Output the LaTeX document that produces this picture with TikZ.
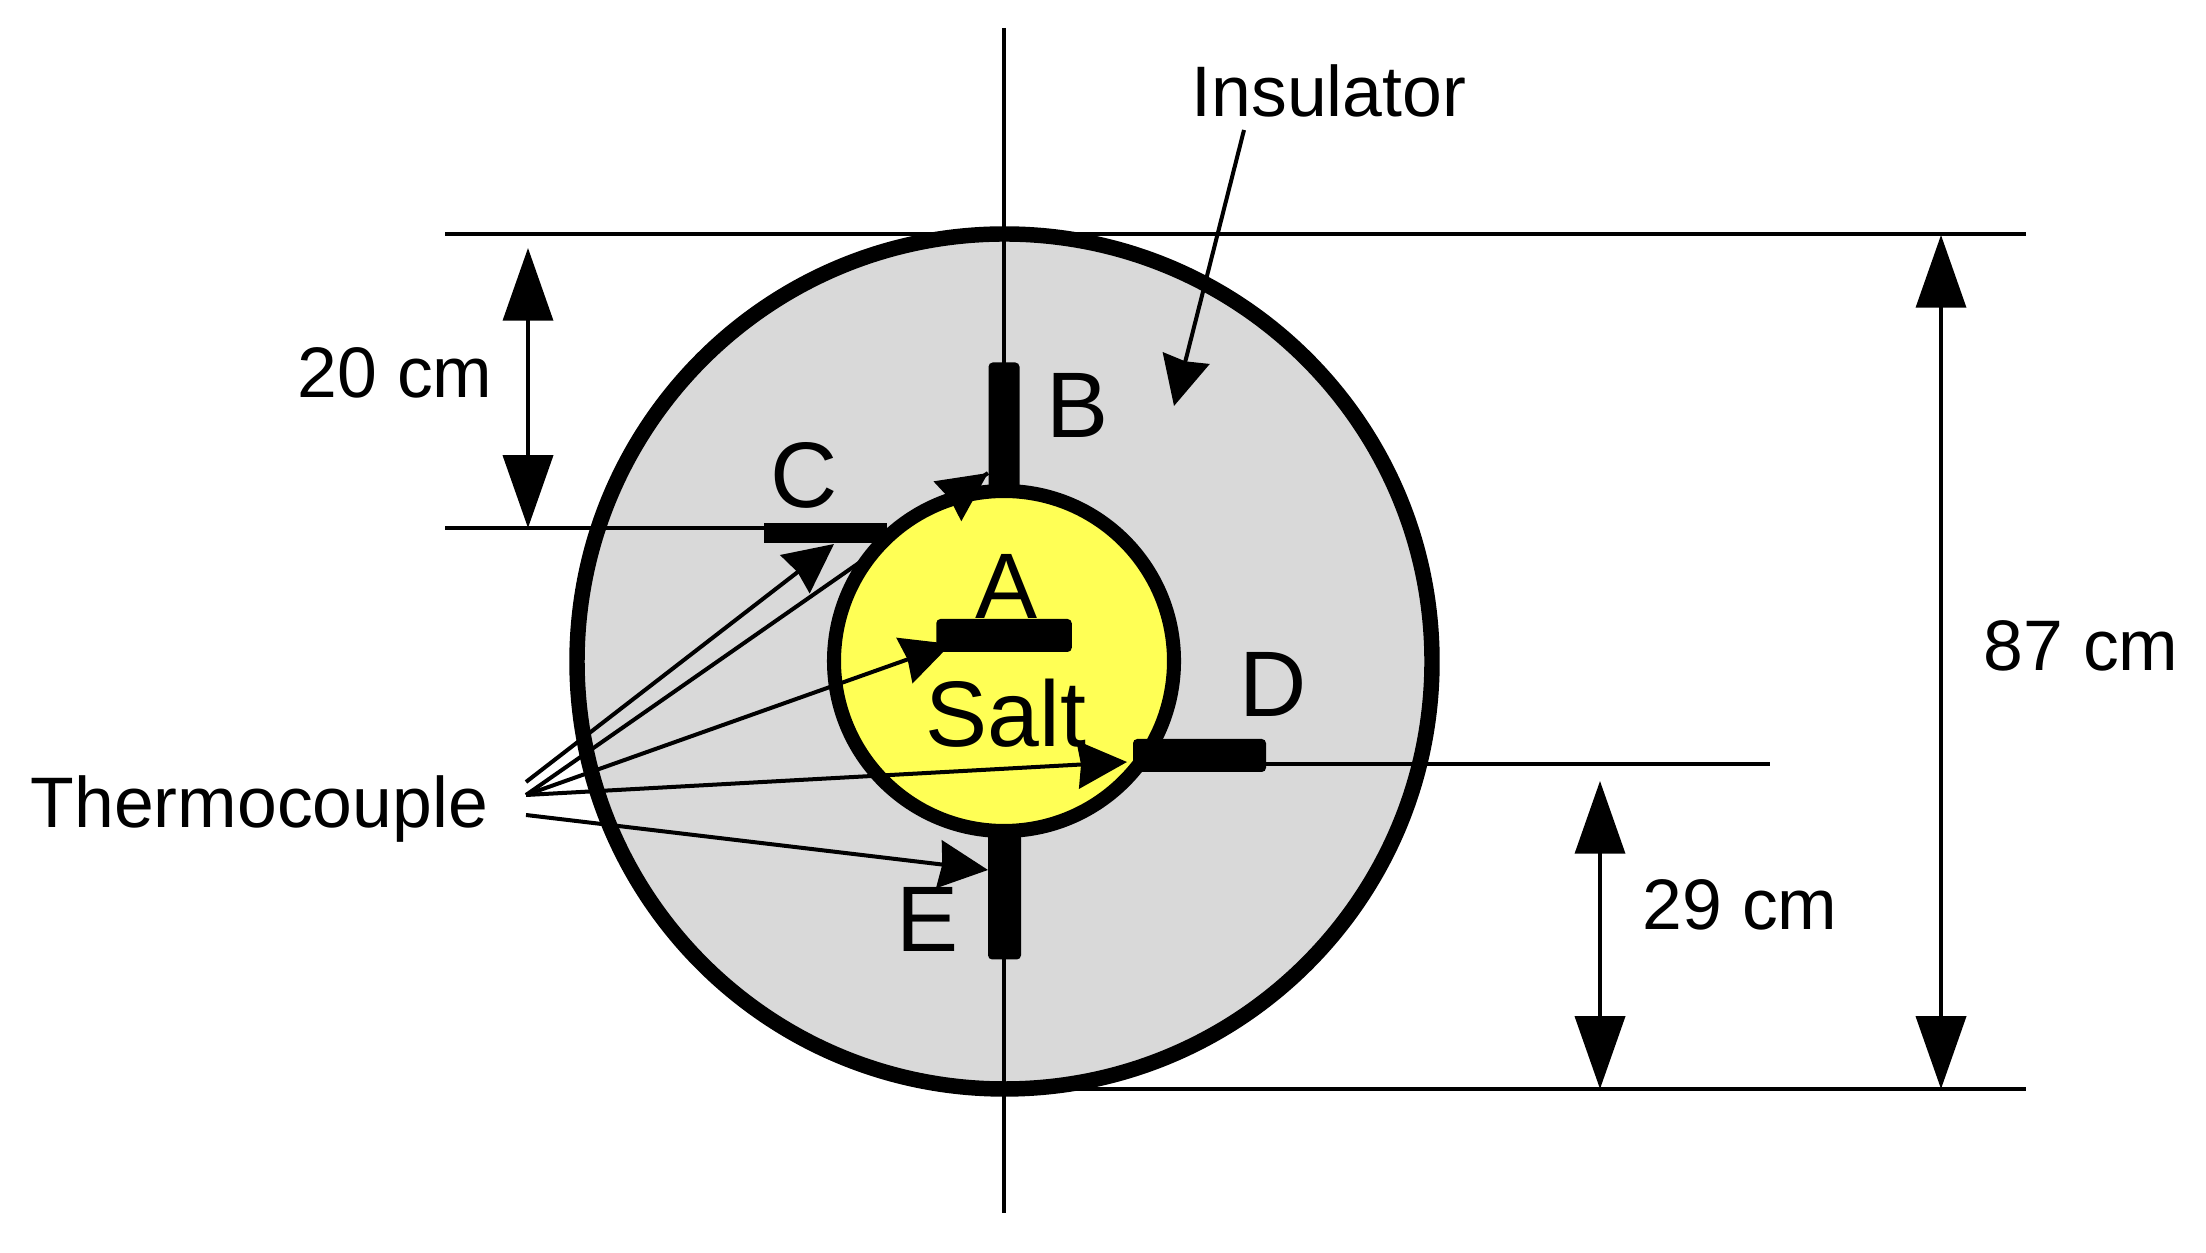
\documentclass[tikz,border=0pt]{standalone}
\usepackage{fontspec}
\setmainfont{Liberation Sans}
\usetikzlibrary{arrows.meta,calc}
\definecolor{insul}{HTML}{D9D9D9}
\definecolor{salt}{HTML}{FFFF55}
\tikzset{
    thinline/.style={line width=1.14pt},
    tcarrow/.style={line width=1.14pt,-{Stealth[length=14pt,width=13.6pt,inset=0.9pt]}},
    dimarrow/.style={line width=1.14pt,{Triangle[length=20.7pt,width=14.2pt]}-{Triangle[length=20.7pt,width=14.2pt]}},
    bar/.style={fill=black,rounded corners=1.2pt,inner sep=0pt,outer sep=0pt},
    lbl/.style={inner sep=0pt,anchor=base west,font=\fontsize{20.35pt}{24pt}\selectfont},
    biglbl/.style={inner sep=0pt,anchor=base west,font=\fontsize{26.5pt}{30pt}\selectfont}
}
\begin{document}
\begin{tikzpicture}[x=0.1mm,y=-0.1mm]
    \useasboundingbox (0,0) rectangle (2206,1253);
    % end points of the lines
    \coordinate (axistop) at (1004,28);
    \coordinate (axisbot) at (1004,1213);
    \coordinate (topl) at (445,234);
    \coordinate (topr) at (2026,234);
    \coordinate (botl) at (1005,1089);
    \coordinate (botr) at (2026,1089);
    \coordinate (leftl) at (445,528);
    \coordinate (leftr) at (770,528);
    \coordinate (rightl) at (1260,764);
    \coordinate (rightr) at (1770,764);
    \coordinate (tcC) at (526,782);
    \coordinate (tcB) at (526,795);
    \coordinate (tcE) at (526,815);
    \coordinate (tipC) at (834,544);
    \coordinate (tipB) at (988,473);
    \coordinate (tipA) at (951,644);
    \coordinate (tipD) at (1127,762);
    \coordinate (tipE) at (988,870);
    \coordinate (insstart) at (1244,130);
    \coordinate (insend) at (1174,406);
    \coordinate (dimAa) at (528,248);
    \coordinate (dimAb) at (528,528);
    \coordinate (dimBa) at (1941,235);
    \coordinate (dimBb) at (1941,1089);
    \coordinate (dimCa) at (1600,781);
    \coordinate (dimCb) at (1600,1089);

    \draw[line width=4.4pt,fill=insul] (1004.5,661.5) circle[radius=427.5];
    \draw[thinline] (axistop) -- (axisbot);
    \draw[thinline] (topl) -- (topr);
    \draw[thinline] (botl) -- (botr);
    \draw[thinline] (leftl) -- (leftr);
    \draw[thinline] (rightl) -- (rightr);
    \draw[thinline] (tcB) -- (tipB);
    \draw[line width=4pt,fill=salt] (1004,661) circle[radius=170];

    \node[biglbl] (labA) at (975,619) {A};
    \node[biglbl] (labSalt) at (925,747) {Salt};
    \node[bar,minimum width=3.1mm,minimum height=12.7mm] (barB) at (1004,426) {};
    \node[bar,minimum width=12.3mm,minimum height=2mm,rounded corners=0pt] (barC) at (825.5,533) {};
    \node[bar,minimum width=13.55mm,minimum height=3.3mm] (barA) at (1004,635.5) {};
    \node[bar,minimum width=13.3mm,minimum height=3.3mm] (barD) at (1199.5,755.5) {};
    \node[bar,minimum width=3.3mm,minimum height=12.9mm] (barE) at (1004.5,895) {};

    \draw[tcarrow] (tcC) -- (tipC);
    \draw[tcarrow] ($(tcB)!0.9!(tipB)$) -- (tipB);
    \draw[tcarrow] (tcB) -- (tipA);
    \draw[tcarrow] (tcB) -- (tipD);
    \draw[tcarrow] (tcE) -- (tipE);
    \draw[tcarrow] (insstart) -- (insend);
    \draw[dimarrow] (dimAa) -- (dimAb);
    \draw[dimarrow] (dimBa) -- (dimBb);
    \draw[dimarrow] (dimCa) -- (dimCb);

    \node[lbl] (labIns) at (1191,117) {Insulator};
    \node[lbl] (lab20) at (297,398) {20 cm};
    \node[lbl] (labTc) at (30,828) {Thermocouple};
    \node[lbl] (lab87) at (1983,671) {87 cm};
    \node[lbl] (lab29) at (1642,930) {29 cm};
    \node[biglbl] (labB) at (1046,438) {B};
    \node[biglbl] (labC) at (770,508) {C};
    \node[biglbl] (labD) at (1239,717) {D};
    \node[biglbl] (labE) at (896,952) {E};
\end{tikzpicture}
\end{document}
